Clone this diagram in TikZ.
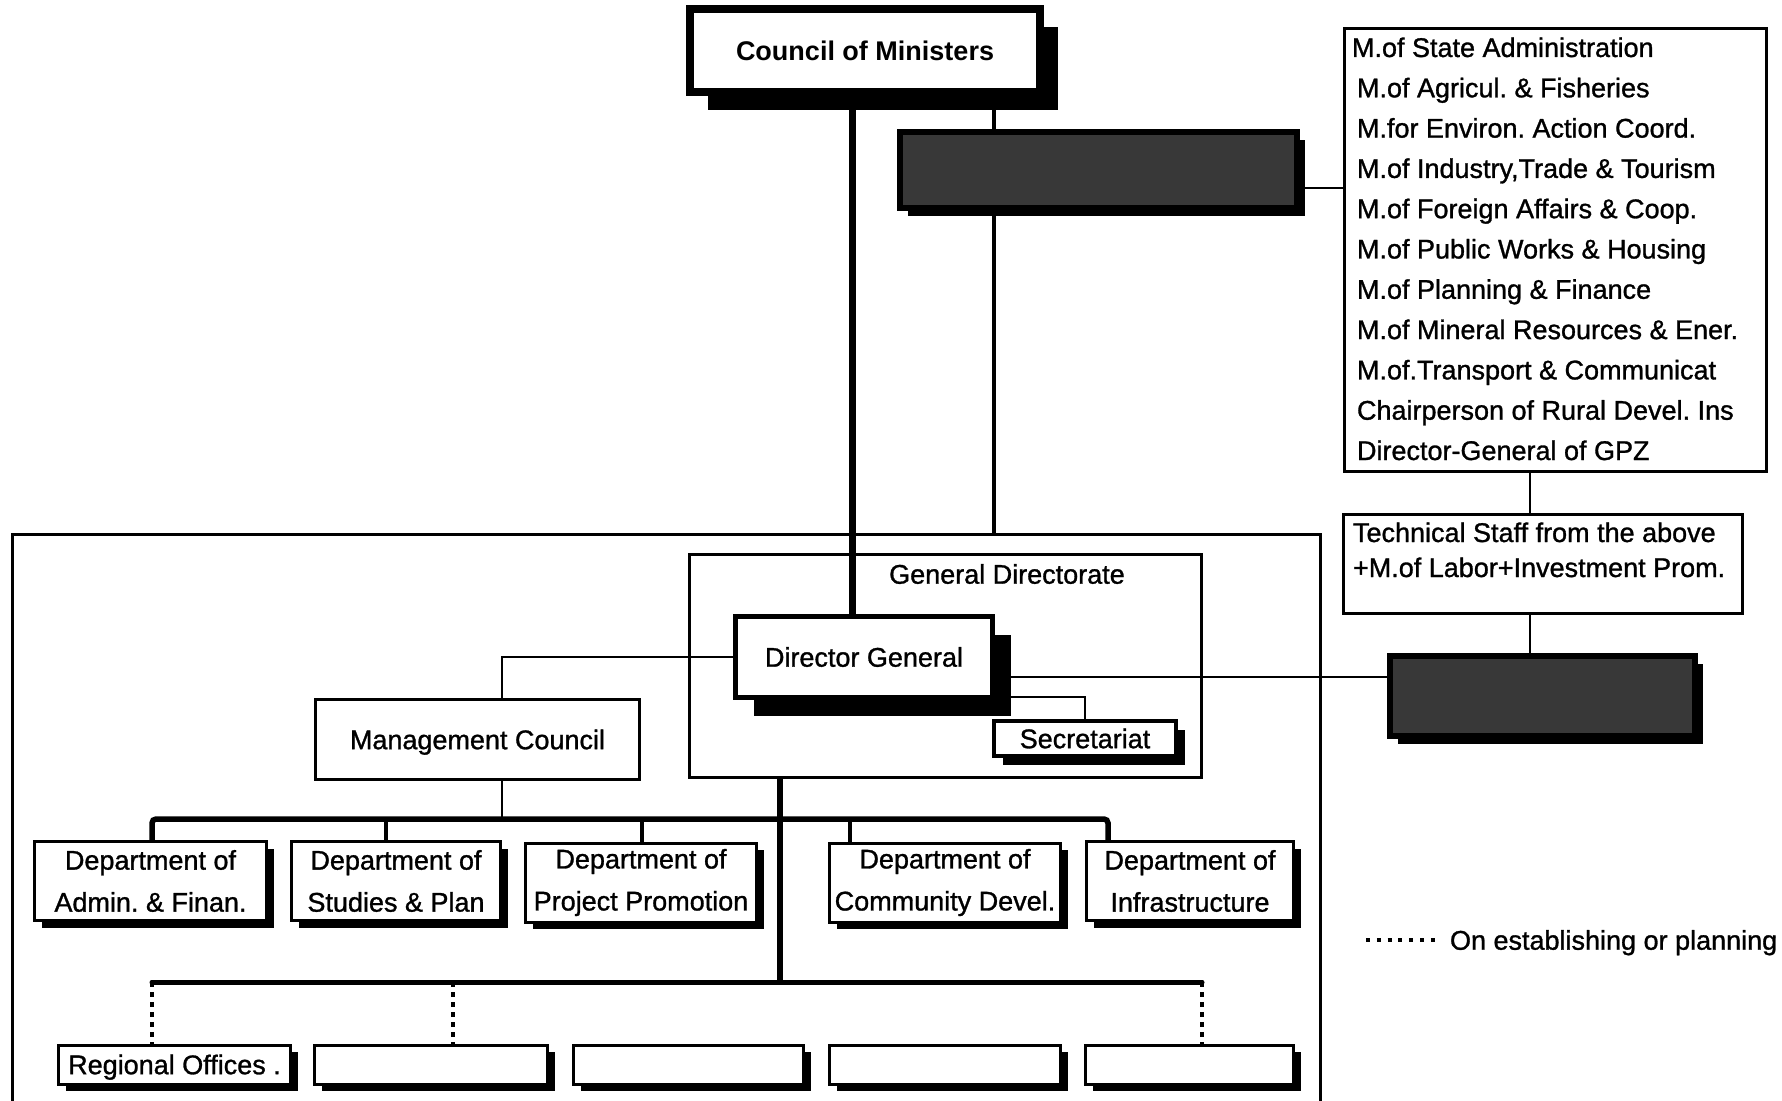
\documentclass[tikz,border=0pt]{standalone}
\usepackage{fontspec}
\setmainfont{Liberation Sans}
\newfontface\chartface{Liberation Sans}[FakeBold=1.1]
\usetikzlibrary{shadows,backgrounds}
\frenchspacing

\begin{document}
\begin{tikzpicture}[x=0.5pt,y=-0.5pt,
  every node/.style={inner sep=0pt, outer sep=0pt},
  txt/.style={font=\chartface\fontsize{13.5}{16}\selectfont},
  capc/.style={text height=9.7pt, text depth=0pt},
  boxshadow/.style={drop shadow={shadow xshift=#1, shadow yshift=-#1, opacity=1, fill=black}},
  chartbox/.style={draw=black, fill=white, rectangle, txt},
  topbox/.style={chartbox, line width=4pt, capc, boxshadow=9pt,
    font=\bfseries\fontsize{13.5}{16}\selectfont},
  headbox/.style={chartbox, line width=2.5pt, capc, boxshadow=9pt},
  secbox/.style={chartbox, line width=2pt, capc, boxshadow=4.5pt},
  plainbox/.style={chartbox, line width=1.2pt, capc},
  deptbox/.style={chartbox, line width=1.5pt, align=center, boxshadow=3.5pt,
    minimum height=39.5pt, font=\chartface\fontsize{13.5}{21}\selectfont},
  officebox/.style={chartbox, line width=1.5pt, capc, boxshadow=3.5pt,
    minimum height=19.5pt},
  listbox/.style={draw=black, fill=white, line width=1.5pt},
  darkbox/.style={draw=black, line width=3pt, fill=black!78, boxshadow=4pt},
  groupbox/.style={draw=black, line width=1.2pt},
  outerframe/.style={line width=1.5pt},
  link/.style={line width=1.2pt},
  sideline/.style={line width=1.6pt},
  mainline/.style={line width=3.5pt},
  stemline/.style={line width=3pt},
  busline/.style={line width=2.75pt, rounded corners=2pt},
  lowbus/.style={line width=2.5pt, line cap=round},
  dropline/.style={line width=2.2pt},
  planned/.style={line width=2pt, dash pattern=on 2.5pt off 2.5pt},
  legenddots/.style={line width=2.2pt, dash pattern=on 2pt off 3.4pt}
]
\useasboundingbox (0,0) rectangle (1782,1101);

% ---- top level ----
\node[topbox, minimum width=175pt, minimum height=41.5pt] (council) at (865,50.5) {Council of Ministers};
\node[darkbox, minimum width=198.5pt, minimum height=38pt] (darkA) at (1098.5,170) {};

% ---- ministries list ----
\node[listbox, minimum width=211pt, minimum height=221.5pt] (ministers) at (1555.5,250) {};
\foreach \lx/\lt [count=\i] in {
  1352/{M.of State Administration},
  1357/{M.of Agricul. \& Fisheries},
  1357/{M.for Environ. Action Coord.},
  1357/{M.of Industry,Trade \& Tourism},
  1357/{M.of Foreign Affairs \& Coop.},
  1357/{M.of Public Works \& Housing},
  1357/{M.of Planning \& Finance},
  1357/{M.of Mineral Resources \& Ener.},
  1357/{M.of.Transport \& Communicat},
  1357/{Chairperson of Rural Devel. Ins},
  1357/{Director-General of GPZ}}
  \node[txt, anchor=base west] (min\i) at (\lx, 57+40.3*\i-40.3) {\lt};

% ---- technical staff ----
\node[listbox, minimum width=199.5pt, minimum height=49.5pt] (tech) at (1543,564) {};
\node[txt, anchor=base west] (tech1) at (1353,542) {Technical Staff from the above};
\node[txt, anchor=base west] (tech2) at (1353,577) {+M.of Labor+Investment Prom.};
\node[darkbox, minimum width=152.5pt, minimum height=40pt] (darkB) at (1542.5,696) {};

% ---- organisation frame ----
\coordinate (frameBL) at (12,1103);
\coordinate (frameTL) at (12,534);
\coordinate (frameTR) at (1320,534);
\coordinate (frameBR) at (1320,1103);
\draw[outerframe] (frameBL) -- (frameTL) -- (frameTR) -- (frameBR);

% ---- general directorate ----
\node[groupbox, minimum width=256pt, minimum height=111.5pt] (gd) at (945.5,666) {};
\node[txt, capc] (gdtitle) at (1007,574) {General Directorate};
\node[headbox, minimum width=128.5pt, minimum height=40.5pt] (dg) at (864,657) {Director General};
\node[secbox, minimum width=91pt, minimum height=17.5pt] (sec) at (1085,738.5) {Secretariat};
\node[plainbox, minimum width=162pt, minimum height=40pt] (mc) at (477.5,739.5) {Management Council};

% ---- departments ----
\node[deptbox, minimum width=116pt]   (dept1) at (150.5,881) {Department of\\Admin. \& Finan.};
\node[deptbox, minimum width=104.5pt] (dept2) at (396,881)   {Department of\\Studies \& Plan};
\node[deptbox, minimum width=115.5pt] (dept3) at (641,882.5) {Department of\\Project Promotion};
\node[deptbox, minimum width=115.5pt] (dept4) at (945,882.5) {Department of\\Community Devel.};
\node[deptbox, minimum width=103.5pt] (dept5) at (1190,881)  {Department of\\Infrastructure};

% ---- regional offices ----
\node[officebox, minimum width=116pt]   (off1) at (174.5,1064.5) {Regional Offices .};
\node[officebox, minimum width=116.5pt] (off2) at (431,1064.5) {};
\node[officebox, minimum width=115pt]   (off3) at (688.5,1064.5) {};
\node[officebox, minimum width=115.5pt] (off4) at (945,1064.5) {};
\node[officebox, minimum width=104pt]   (off5) at (1189.5,1064.5) {};

% ---- legend ----
\coordinate (legstart) at (1366,940);
\node[txt, capc, anchor=west] (legend) at (1450,940) {On establishing or planning};
\draw[legenddots] (legstart) -- ([xshift=-5pt]legend.west);

% ---- bus points ----
\coordinate (busL) at (152,819);
\coordinate (busR) at (1108,819);
\coordinate (d2) at (386,819);
\coordinate (d3) at (642,819);
\coordinate (d4) at (850,819);
\coordinate (lowL) at (152,982);
\coordinate (lowR) at (1202,982);
\coordinate (p2) at (453,982);

% ---- connectors ----
\begin{scope}[on background layer]
  \draw[mainline] ([xshift=-6.5pt]council.south) coordinate (cmx) -- (cmx |- dg.north);
  \draw[sideline] ([xshift=64.5pt]council.south) coordinate (csx) -- (csx |- frameTL);
  \draw[link] ([yshift=-9pt]darkA.east) coordinate (ax) -- (ax -| ministers.west);
  \draw[link] ([xshift=-12.75pt]ministers.south) coordinate (mx) -- (mx |- tech.north);
  \draw[link] (mx |- tech.south) -- (mx |- darkB.north);
  \draw[link] ([yshift=-10pt]dg.east) coordinate (dx) -- (dx -| darkB.west);
  \draw[link] ([yshift=-20pt]dg.east) -| (sec.north);
  \draw[link] (dg.west) -| ([xshift=12.25pt]mc.north);
  \draw[link] ([xshift=12.25pt]mc.south) coordinate (mcx) -- (mcx |- busL);
  \draw[busline] (busL |- dept1.north) -- (busL) -- (busR) -- (busR |- dept5.north);
  \draw[dropline] (d2) -- (d2 |- dept2.north);
  \draw[dropline] (d3) -- (d3 |- dept3.north);
  \draw[dropline] (d4) -- (d4 |- dept4.north);
  \draw[stemline] ([xshift=-82.75pt]gd.south) coordinate (gx) -- (gx |- lowL);
  \draw[lowbus] (lowL) -- (lowR);
  \draw[planned] (lowL) -- (lowL |- off1.north);
  \draw[planned] (p2) -- (p2 |- off2.north);
  \draw[planned] (lowR) -- (lowR |- off5.north);
\end{scope}
\end{tikzpicture}
\end{document}
